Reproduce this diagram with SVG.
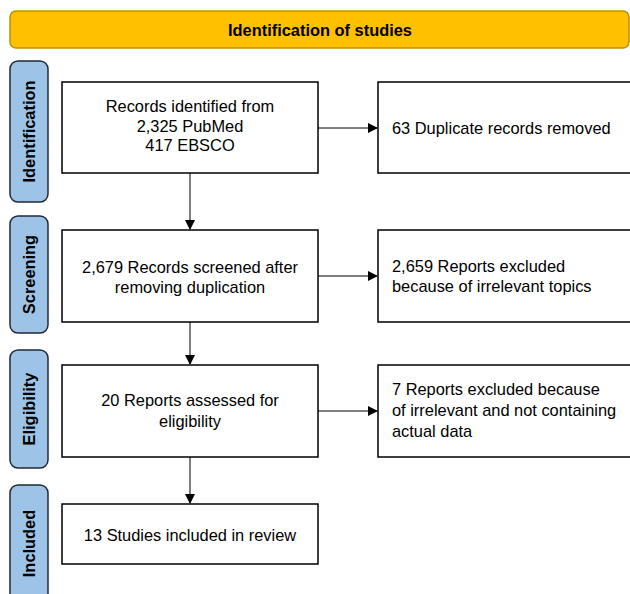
<svg xmlns="http://www.w3.org/2000/svg" width="630" height="594" viewBox="0 0 630 594">
<defs>
<marker id="arr" markerWidth="10" markerHeight="10" refX="9" refY="5" orient="auto" markerUnits="userSpaceOnUse">
<path d="M0,0 L10,5 L0,10 Z" fill="#000"/>
</marker>
<style>
.box{fill:#fff;stroke:#000;stroke-width:1.5}
.pill{fill:#9DC3E6;stroke:#1f2a36;stroke-width:1.5}
.t{font-family:"Liberation Sans",Arial,sans-serif;font-size:16.4px;fill:#000}
.c{text-anchor:middle}
.b{font-weight:bold}
.conn{stroke:#000;stroke-width:1;fill:none;marker-end:url(#arr)}
</style>
</defs>
<g id="header">
<rect x="10" y="11" width="619" height="37" rx="6" fill="#FFC000" stroke="#BF9000" stroke-width="1.5"/>
<text class="t c b" x="320" y="35.5">Identification of studies</text>
</g>
<g id="label-identification">
<rect class="pill" x="10" y="61" width="38" height="141" rx="8"/>
<text class="t c b" transform="translate(35,131.5) rotate(-90)">Identification</text>
</g>
<g id="label-screening">
<rect class="pill" x="10" y="216" width="38" height="117" rx="8"/>
<text class="t c b" transform="translate(35,274.5) rotate(-90)">Screening</text>
</g>
<g id="label-eligibility">
<rect class="pill" x="10" y="350" width="38" height="118" rx="8"/>
<text class="t c b" transform="translate(35,409) rotate(-90)">Eligibility</text>
</g>
<g id="label-included">
<rect class="pill" x="10" y="485" width="38" height="118" rx="8"/>
<text class="t c b" transform="translate(35,543.5) rotate(-90)">Included</text>
</g>
<g id="records-identified">
<rect class="box" x="62" y="82" width="256" height="91"/>
<text class="t c" x="190" y="112">Records identified from</text>
<text class="t c" x="190" y="131.5">2,325 PubMed</text>
<text class="t c" x="190" y="151">417 EBSCO</text>
</g>
<g id="duplicates-removed">
<rect class="box" x="378" y="82" width="256" height="91"/>
<text class="t" x="392" y="133.5">63 Duplicate records removed</text>
</g>
<g id="records-screened">
<rect class="box" x="62" y="230" width="256" height="92"/>
<text class="t c" x="190" y="273">2,679 Records screened after</text>
<text class="t c" x="190" y="293">removing duplication</text>
</g>
<g id="reports-excluded-1">
<rect class="box" x="378" y="230" width="256" height="92"/>
<text class="t" x="392" y="272">2,659 Reports excluded</text>
<text class="t" x="392" y="292">because of irrelevant topics</text>
</g>
<g id="reports-assessed">
<rect class="box" x="62" y="365" width="256" height="92"/>
<text class="t c" x="190" y="406">20 Reports assessed for</text>
<text class="t c" x="190" y="427">eligibility</text>
</g>
<g id="reports-excluded-2">
<rect class="box" x="378" y="365" width="256" height="92"/>
<text class="t" x="392" y="395">7 Reports excluded because</text>
<text class="t" x="392" y="416">of irrelevant and not containing</text>
<text class="t" x="392" y="437">actual data</text>
</g>
<g id="studies-included">
<rect class="box" x="62" y="504" width="256" height="60"/>
<text class="t c" x="190" y="541">13 Studies included in review</text>
</g>
<g id="connectors">
<line class="conn" x1="318" y1="128" x2="377" y2="128"/>
<line class="conn" x1="318" y1="276" x2="377" y2="276"/>
<line class="conn" x1="318" y1="411" x2="377" y2="411"/>
<line class="conn" x1="190" y1="173" x2="190" y2="229"/>
<line class="conn" x1="190" y1="322" x2="190" y2="364"/>
<line class="conn" x1="190" y1="457" x2="190" y2="503"/>
</g>
</svg>
